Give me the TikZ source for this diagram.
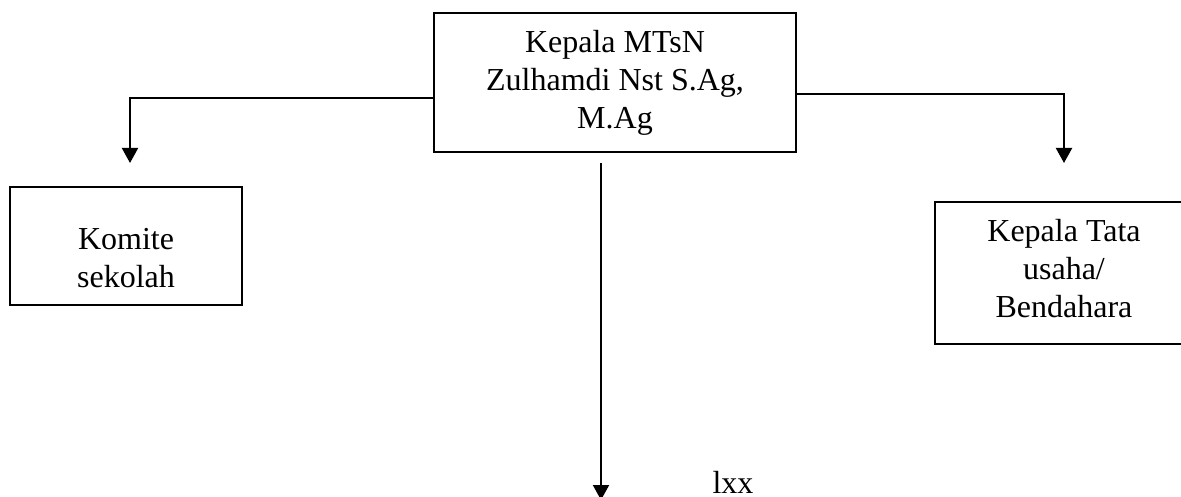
\documentclass[tikz,border=0pt]{standalone}
\usepackage{fontspec}
\setmainfont{Liberation Serif}
\usetikzlibrary{arrows.meta}
\begin{document}
\begin{tikzpicture}[x=1pt,y=-1pt,
  box/.style={draw=black,line width=1.5pt,rectangle,inner sep=0pt},
  txt/.style={align=center,inner sep=0pt,font=\fontsize{32}{38}\selectfont},
  plain/.style={inner sep=0pt,font=\fontsize{32}{38}\selectfont},
  conn/.style={draw=black,line width=2pt,-{Triangle[width=16pt,length=15pt]}}]
\useasboundingbox (0,0) rectangle (1181,497);
% boxes
\node[box,minimum width=362pt,minimum height=139pt] (head) at (615,82.5) {};
\node[txt] (headt) at (615,82.5) {Kepala MTsN\\Zulhamdi Nst S.Ag,\\M.Ag};
\node[box,minimum width=232pt,minimum height=118pt] (kom) at (126,246) {};
\node[txt] (komt) at (126,258) {Komite\\sekolah};
\node[box,minimum width=258pt,minimum height=142pt] (ktu) at (1064,273) {};
\node[txt] (ktut) at (1064,269) {Kepala Tata\\usaha/\\Bendahara};
\node[plain,anchor=base] (lxx) at (733,493) {lxx};
% free ends
\coordinate (la) at (130,163);
\coordinate (ra) at (1064,163);
\coordinate (cs) at (601,163);
\coordinate (ce) at (601,500);
% connectors
\draw[conn] ([yshift=-15.5pt]head.west) -| (la);
\draw[conn] ([yshift=-11.5pt]head.east) -| (ra);
\draw[conn] (cs) -- (ce);
\end{tikzpicture}
\end{document}
